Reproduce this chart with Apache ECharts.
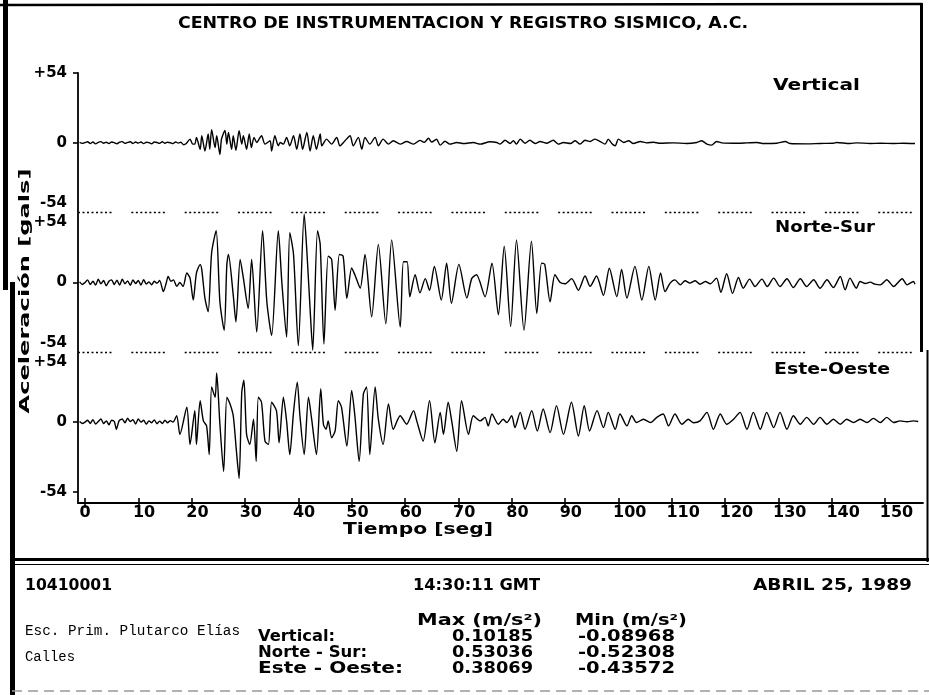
<!DOCTYPE html>
<html>
<head>
<meta charset="utf-8">
<script src="https://cdn.jsdelivr.net/npm/echarts@6/dist/echarts.min.js"></script>
<style>
  html, body { margin: 0; padding: 0; background: #fff; }
  #chart { width: 929px; height: 695px; }
</style>
</head>
<body>
<div id="chart"></div>
<script>
// Acceleration records [seconds, gals], one array per component.
const verticalTrace = [
  [-1,0.3],[-0.5,-0.4],[0,0.2],[0.5,0.8],[1,-0.5],[1.5,0.6],[2,-0.8],[2.5,0.4],[3,0.9],[3.5,-0.3],[4,0.5],[4.5,-0.6],
  [5,0.7],[5.5,0.2],[6,-0.7],[6.5,0.5],[7,0.9],[7.5,-0.4],[8,0.3],[8.5,0.8],[9,-0.5],[9.5,0.6],[10,-0.2],[10.5,0.7],
  [11,-0.6],[11.5,0.4],[12,0.2],[12.5,-0.7],[13,0.6],[13.5,0.3],[14,-0.4],[14.5,0.8],[15,-0.3],[15.5,0.5],[16,0.1],
  [16.5,-0.6],[17,0.7],[17.5,-0.2],[18,0.4],[18.5,-1.5],[19,-0.5],
  [19.7,2.9],[20.2,-1],[20.6,-1],[20.9,4.2],[21.6,-5],[21.9,5.5],[22.5,-6.3],[23.1,6.8],[23.4,-5],[23.75,10.185],
  [24.4,-3.7],[24.7,5.5],[25.3,-8.968],[25.6,2.9],[26.25,9.6],[26.6,-1],[26.9,8],[27.5,-5],[27.8,5.5],[28.3,-5.7],
  [28.9,9.4],[29.4,-1],[29.7,5.5],[30.3,-5],[30.8,6.8],[31.2,-3.7],[31.7,4.2],[32.2,0.3],[33.1,5.5],[33.75,-1],
  [34.7,1.6],[35,-6.3],[35.6,5.5],[36.25,-2.3],[36.6,0.3],[37.2,-1],[37.8,4.2],[38.4,-2.3],[39.1,5.5],[39.7,-5],
  [40.3,6.8],[40.8,-5],[41.6,8.1],[42.2,-6.3],[42.8,5.5],[43.4,-5],[44.1,6.8],[44.4,-2.3],[45.3,2.9],[46.25,-1],
  [47.2,4.2],[47.8,-2.3],[48.75,1.6],[49.7,5.5],[50.3,-2.3],[51.25,4.2],[51.9,-5],[52.5,4.2],[53.4,-1],[54.4,4.2],
  [55,-2.3],[55.9,2.9],[56.9,-1],[57.8,1.6],[59.1,-1],[60.3,1],[61.6,-1],[62.8,1.9],[63.6,0.4],[64.4,3.5],[65,0.6],
  [65.9,2.8],[66.6,-1.8],[67.5,1.2],[68.4,-1],[69.7,0.3],[71,-0.5],[72.8,0.3],[74.1,-1],[75.9,0.8],[77.2,0.3],
  [77.8,-1],[78.75,2],[79.7,-0.5],[80.3,1.6],[80.9,-1],[81.6,2.9],[82.5,-0.3],[83.4,2],[84.4,-0.5],[85.3,1],
  [86.6,-0.3],[87.8,2],[88.75,-1],[89.7,0.3],[91,-0.5],[91.9,1.6],[92.8,-1],[93.75,2],[94.7,1],[95.6,2.9],[96.6,1],
  [97.5,-1],[98.1,2.9],[98.75,-0.5],[99.4,-2.3],[100,2.9],[101,0.3],[101.9,1.6],[102.8,-0.5],[104.1,1],[105.3,0],
  [106.6,0.5],[107.8,-0.3],[110.3,0],[112.8,-0.5],[114.7,0.3],[115.6,1.6],[116.6,-1],[117.5,-1.8],[118.4,1],
  [119.4,0],[121.6,-0.3],[124.1,0],[126,0.3],[127.2,-0.5],[129.7,-0.3],[131.3,1],[132.2,-0.5],[135.3,-0.8],
  [137.8,-0.5],[140.3,-0.3],[140.9,0.3],[143.4,-0.5],[144.7,0],[147.2,-0.5],[149.1,-0.3],[151.6,-0.5],[153.4,-0.3],
  [155.6,-0.5]
];

const norteSurTrace = [
  [-1,0.5],[-0.5,-1.5],[0,0],[0.5,2],[1,-1.5],[1.5,1],[2,-2],[2.5,2.5],[3,-1],[3.5,1.5],[4,-2.5],[4.5,1],[5,2],
  [5.5,-1.5],[6,1.8],[6.5,-2],[7,2.5],[7.5,-1],[8,1.2],[8.5,-2.2],[9,2],[9.5,-0.8],[10,1.5],[10.5,-2],[11,2.2],
  [11.5,-1.2],[12,0.5],[12.5,-1.8],[13,1],[13.5,-0.5],[14,1.5],[14.7,-7],[15.2,-1],[15.6,4.7],[16.1,1],[16.6,2],
  [17.2,-3],[17.8,0],[18.4,-3],[19.1,7.3],[19.7,3.4],[20.3,-13.6],[20.9,7.3],[21.6,13.8],[21.9,9.9],[22.5,-12.3],
  [23.1,-22.7],[23.75,23],[24.6,40],[25.3,-14.9],[26.1,-37],[26.6,13.8],[26.9,21.7],[27.8,-9.7],[28.3,-30.5],
  [29.1,17.8],[29.7,3.4],[30.6,-20],[31.25,17.8],[32.2,-38.4],[33.3,40],[34.1,-14.9],[35,-41],[36.25,40],[36.9,0.8],
  [37.8,-42.3],[38.4,38.6],[39.1,21.7],[40,-48.8],[41.1,53.036],[41.6,24.3],[42.2,-20],[42.7,-52.308],[43.6,40],
  [44.1,29.5],[44.8,-47.5],[45.6,20.4],[46.25,17.8],[46.9,-21.4],[47.7,21.7],[48.4,20.4],[49.1,-12.3],[50,11.2],
  [50.6,6],[51.6,-4.4],[52.5,21.7],[53.75,-26.6],[55,29.5],[56.4,-32],[57.5,33],[59.1,-34.5],[59.7,16],[60.4,16],
  [60.9,-11],[61.9,6],[62.8,-8],[63.8,3],[64.6,-6],[65.5,12.5],[66.8,-13.5],[67.8,15],[68.7,-16],[70.1,14],
  [71.6,-12],[72.5,3],[73.4,6],[75,-11],[76.3,15],[77.5,-25],[78.6,28],[79.8,-34],[80.9,33],[82.3,-37],[83.7,32],
  [84.7,-24],[85.6,15],[86.2,14],[87.2,-15],[88.1,6],[89.1,0],[90,-1],[91.25,3],[92.5,-6],[93.75,5],[94.7,-3],
  [95.9,5],[97.2,-10],[98.3,11],[99.7,-11],[100.6,10],[101.6,-12],[103.1,12.5],[104.4,-13.5],[105.7,12.5],
  [106.9,-13.6],[107.9,7.3],[108.75,-7],[109.7,-0.5],[110.6,2],[111.6,-1.8],[112.5,1.3],[113.4,-0.5],[114.4,1.3],
  [115.3,-1.3],[116.3,0.8],[117.2,-1],[118.4,3.4],[119.2,-7.6],[120.3,6.8],[121.4,-8.4],[122.5,3.9],[123.4,-4.4],
  [124.6,2.6],[125.6,-3.1],[126.9,2.6],[127.9,-3.1],[129.1,3.4],[130.3,-3.1],[131.6,2.9],[132.8,-3.9],[134.1,2.9],
  [135.3,-3.1],[136.6,2.1],[137.8,-4.4],[139.1,2.1],[140.3,-3.9],[141.6,4.7],[142.5,-5.7],[143.4,3.4],[144.6,-4.4],
  [145.3,0.8],[146.3,-0.8],[147.2,0.3],[148.1,-1.3],[149.1,-1.8],[150.3,2.1],[151.6,-3.1],[153.2,2.9],[154.1,-1.8],
  [155.3,0.8],[155.6,-1.3]
];

const esteOesteTrace = [
  [-1,0.5],[-0.5,-1],[0,0],[0.5,1.5],[1,-1],[1.5,2],[2,-1.5],[2.5,0.5],[3,2.5],[3.5,-1],[4,1],[4.5,-2],[5,1.5],
  [5.5,0.5],[5.9,-5.5],[6.4,1],[7,2.5],[7.5,-0.5],[8,3],[8.5,0.5],[9,2],[9.5,-1.5],[10,2.5],[10.5,0],[11,1.5],
  [11.5,-1.5],[12,1],[12.5,-0.5],[13,1.8],[13.5,-1.2],[14,0.8],[14.5,-1],[15,1.5],[15.5,-0.5],[16,1.2],[16.5,0],
  [17.2,5],[17.8,-9.4],[19.1,11.5],[19.7,-17.2],[20.6,8.9],[20.9,-17.2],[21.6,16.7],[22.2,1],[22.8,-2.9],[23.3,-25],
  [23.75,27.2],[24.4,19.3],[24.7,38.069],[25.3,-1.6],[26,-38.1],[26.6,19.3],[27.2,14.1],[27.8,5],[28.4,-22.5],
  [28.9,-43.572],[29.4,23.2],[29.8,32.4],[30.3,-9.4],[30.9,-17.2],[31.6,2.3],[32.1,-30.3],[32.5,19.3],[33.1,15.4],
  [33.75,-14.6],[34.4,-17.2],[35,15.4],[35.9,8.9],[36.4,-15.9],[37.2,19.3],[37.8,1],[38.4,-25],[39.1,7.6],[39.8,31],
  [40.3,5],[41.1,-25],[41.9,19.3],[42.5,2.3],[43.4,-25],[44.2,25.8],[44.7,-1.6],[45.2,-5.5],[45.6,1],[46.25,-12],
  [46.9,-6.8],[47.5,16.7],[48.1,11.5],[49.1,-18.5],[50,24.5],[50.6,5],[51.4,-30.3],[52.2,21.9],[52.8,27.2],
  [53.4,-25],[54.4,27.2],[55,2.3],[55.9,-17.2],[56.9,14.1],[57.8,-5.5],[59.1,5],[60.3,-1.6],[61.6,8.9],[62.2,1],
  [63.4,-14.6],[64.6,16.7],[65.6,-15.9],[66.6,7.6],[67.2,-9.4],[68.1,15.4],[68.75,1],[69.7,-22.5],[70.6,16.7],
  [71.9,-9.4],[72.8,5],[74.1,1],[75,3.7],[75.6,-2.9],[76.3,6.3],[77.5,-1.6],[78.4,2.3],[79.1,-0.3],[80,5],
  [80.6,-4.2],[81.6,7.6],[82.5,-5.5],[83.75,8.9],[84.8,-6.8],[85.9,10.2],[87.2,-8.1],[88.4,12.8],[89.7,-9.4],
  [91.2,15.4],[92.5,-10.7],[93.6,12.8],[94.6,-6.8],[96,8.9],[97.2,-4.2],[98.1,7.6],[99.4,-5.5],[100.3,6.3],
  [101.6,-2.9],[102.5,5],[103.4,-0.3],[104.7,2.3],[106,-0.3],[107.2,3.7],[108.4,6.3],[109.4,-2.9],[110.6,6.3],
  [111.9,-1.6],[113.1,2.3],[114.1,-0.5],[115.3,1],[116.6,7.6],[117.8,-5.5],[119.1,6.3],[120.3,-1.6],[121.6,2.3],
  [122.8,7.6],[124.1,-5.5],[125.3,7.6],[126.6,-5.5],[127.8,7.6],[129.1,-4.2],[130.3,7.6],[131.6,-5.5],[132.8,5],
  [134.1,-1.6],[135.3,3.7],[136.6,-1.6],[137.8,3.7],[139.1,-1.6],[140.3,2.3],[141.6,-1.6],[142.8,2.3],[144.1,-0.3],
  [145.3,2.3],[146.6,-0.3],[147.8,2.9],[149.1,-0.3],[150.3,3.7],[151.6,-0.3],[152.8,1],[154.1,0.3],[155.3,1],
  [156.2,0.5]
];

// Component names and their vertical placement on the shared axis (gals).
const componentNames = ['Vertical', 'Norte-Sur', 'Este-Oeste'];
const componentOffsets = [108, 0, -108];
const halfRange = 54;

// Axis ticks.
const timeTicks = [0, 10, 20, 30, 40, 50, 60, 70, 80, 90, 100, 110, 120, 130, 140, 150];
const yTickValues = [162, 108, 54, 0, -54, -108, -162];
const yTickLabels = ['+54', '0', '-54\n+54', '0', '-54\n+54', '0', '-54'];

// Station panel text.
const stationCode = '10410001';
const startTime = '14:30:11 GMT';
const eventDate = 'ABRIL 25, 1989';
const stationName = ['Esc. Prim. Plutarco Elías', 'Calles'];
const tableRows = ['Vertical:', 'Norte - Sur:', 'Este - Oeste:'];
const peakMax = ['0.10185', '0.53036', '0.38069'];
const peakMin = ['-0.08968', '-0.52308', '-0.43572'];

const FONT = 'DejaVu Sans';
const TYPEWRITER = 'Liberation Mono';
const WEIGHT = 'bold';
const INK = '#000';

const measureCtx = document.createElement('canvas').getContext('2d');
// Text stretched horizontally to a given width (plotter lettering is wide).
function wideText(text, x, y, width, size, opts) {
  opts = opts || {};
  const weight = opts.weight || WEIGHT;
  const family = opts.family || FONT;
  measureCtx.font = weight + ' ' + size + 'px "' + family + '"';
  const natural = measureCtx.measureText(text).width;
  const align = opts.align || 'left';
  const el = {
    type: 'text',
    x: x, y: y,
    scaleX: width / natural,
    silent: true,
    style: {
      text: text, fontFamily: family, fontSize: size, fontWeight: weight, fill: INK,
      align: align, verticalAlign: 'middle',
      textAlign: align, textVerticalAlign: 'middle'
    }
  };
  if (opts.rotation) el.rotation = opts.rotation;
  return el;
}
function rule(x1, y1, x2, y2, width, extra) {
  return {
    type: 'line', silent: true,
    shape: { x1: x1, y1: y1, x2: x2, y2: y2 },
    style: Object.assign({ stroke: INK, lineWidth: width }, extra || {})
  };
}

const traces = [verticalTrace, norteSurTrace, esteOesteTrace];
const series = traces.map((trace, i) => ({
  name: componentNames[i],
  type: 'line',
  xAxisIndex: 0,
  data: trace.map(p => [p[0], p[1] + componentOffsets[i]]),
  showSymbol: false,
  smooth: 0.25,
  lineStyle: { color: INK, width: 1.4 },
  emphasis: { disabled: true },
  silent: true,
  animation: false
}));

// Dotted boundaries between the three records.
series[1].markLine = {
  silent: true,
  symbol: 'none',
  label: { show: false },
  emphasis: { disabled: true },
  lineStyle: { color: INK, width: 1.4, type: [2, 2.5, 2, 2.5, 2, 2.5, 2, 2.5, 2, 2.5, 2, 2.5, 2, 2.5, 2, 19.85] },
  data: [{ yAxis: componentOffsets[0] - halfRange }, { yAxis: componentOffsets[2] + halfRange }]
};

const tickStyle = { color: INK, width: 1.6 };
const xCommon = { type: 'value', min: -1.3, max: 157.1, splitLine: { show: false } };

const graphics = [
  // frame
  rule(0, 5, 922, 4, 2.5),
  rule(5.5, 0, 5.5, 290, 5),
  rule(12.5, 282, 12.5, 695, 5),
  rule(921.5, 3, 921.5, 352, 3),
  rule(927.5, 350, 927.5, 562, 2),
  rule(12, 559.5, 929, 559.5, 3),
  rule(12, 564.5, 929, 564.5, 1.2),
  rule(12, 691, 929, 691, 1.5, { stroke: '#9a9a9a', lineDash: [10, 6] }),
  // headings
  wideText('CENTRO DE INSTRUMENTACION Y REGISTRO SISMICO, A.C.', 178, 24, 570, 16),
  wideText(componentNames[0], 773, 86, 87, 15),
  wideText(componentNames[1], 775, 228, 100, 15),
  wideText(componentNames[2], 774, 370, 116, 15),
  wideText('Aceleración [gals]', 25, 291, 245, 14, { align: 'center', rotation: Math.PI / 2 }),
  wideText('Tiempo [seg]', 343, 530, 150, 16),
  // station panel
  wideText(stationCode, 25, 586, 87, 15),
  wideText(startTime, 413, 586, 127, 15),
  wideText(eventDate, 753, 586, 159, 15),
  wideText(stationName[0], 25, 631, 215, 14, { weight: 'normal', family: TYPEWRITER }),
  wideText(stationName[1], 25, 657, 50, 14, { weight: 'normal', family: TYPEWRITER }),
  wideText('Max (m/s²)', 417, 621, 125, 15),
  wideText('Min (m/s²)', 575, 621, 112, 15)
];
tableRows.forEach((label, i) => {
  const y = 637 + i * 16.2;
  graphics.push(wideText(label, 258, y, [77, 109, 145][i], 15));
  graphics.push(wideText(peakMax[i], 452, y, 81, 15));
  graphics.push(wideText(peakMin[i], 578, y, 97, 15));
});

const chart = echarts.init(document.getElementById('chart'), null, { renderer: 'canvas' });
chart.setOption({
  backgroundColor: '#fff',
  animation: false,
  grid: { left: 78, right: 6, top: 73, bottom: 192, containLabel: false },
  xAxis: [
    Object.assign({}, xCommon, {
      position: 'bottom',
      axisLine: { show: true, onZero: false, lineStyle: { color: INK, width: 1.8 } },
      axisTick: { show: true, inside: false, length: 5, lineStyle: tickStyle, customValues: timeTicks },
      axisLabel: {
        show: true, margin: 2, align: 'left',
        color: INK, fontFamily: FONT, fontWeight: WEIGHT, fontSize: 16,
        customValues: timeTicks.map(t => t - 1),
        formatter: v => String(Math.round(v + 1))
      }
    }),
    Object.assign({}, xCommon, {
      position: 'bottom',
      axisLine: { show: false, onZero: false },
      axisTick: { show: true, inside: true, length: 5, lineStyle: tickStyle, customValues: timeTicks },
      axisLabel: { show: false }
    })
  ],
  yAxis: {
    type: 'value', min: -170.5, max: 162,
    splitLine: { show: false },
    axisLine: { show: true, onZero: false, lineStyle: { color: INK, width: 1.8 } },
    axisTick: { show: true, length: 5, lineStyle: tickStyle, customValues: [162, 108, 0, -108, -162] },
    axisLabel: {
      show: true, margin: 11, color: INK, fontFamily: FONT, fontWeight: WEIGHT, fontSize: 15, lineHeight: 19,
      customValues: yTickValues,
      formatter: v => {
        const i = yTickValues.indexOf(Math.round(v));
        return i >= 0 ? yTickLabels[i] : '';
      }
    }
  },
  series: series,
  graphic: { elements: graphics }
});
</script>
</body>
</html>
